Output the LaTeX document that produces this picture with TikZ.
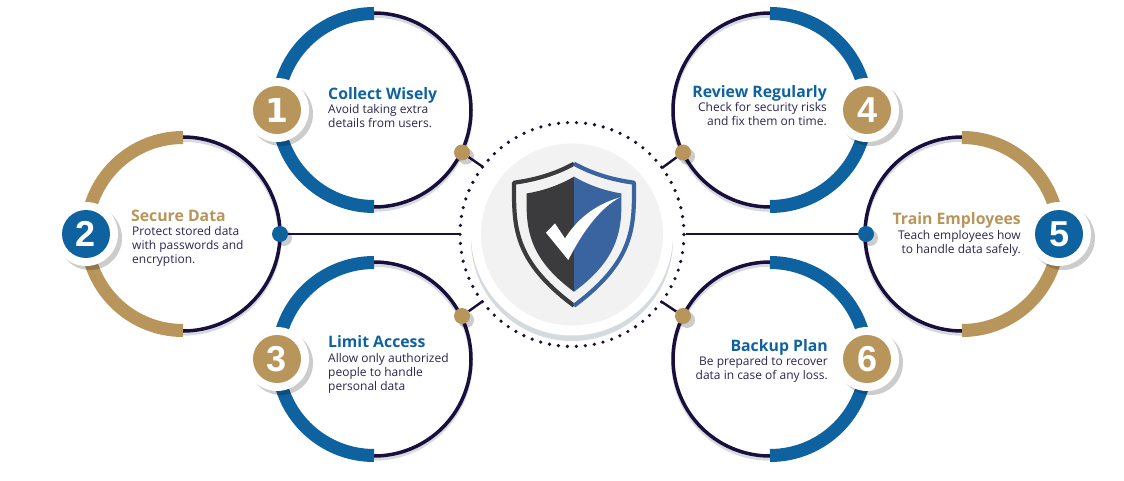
\documentclass[tikz,border=0pt]{standalone}
\usepackage{xcolor}
\usepackage{fontspec}
\setmainfont{Open Sans}
\newfontfamily\digitfont{Liberation Sans}
\newfontfamily\onefont{DejaVu Sans}
\usetikzlibrary{positioning,shadows}

\definecolor{bluemain}{HTML}{0F62A0}
\definecolor{goldmain}{HTML}{B8955A}
\definecolor{navyline}{HTML}{1A0F3C}
\definecolor{bodyink}{HTML}{2B2550}
\definecolor{ringshade}{HTML}{D5DADE}
\definecolor{hubgrey}{HTML}{F2F2F3}
\definecolor{shielddark}{HTML}{3B3A3C}
\definecolor{shieldblue}{HTML}{3A64A0}

\tikzset{
  thinring/.style={navyline, line width=3.5pt},
  ringshadow/.style={ringshade, line width=3.5pt},
  thickarc/.style={line width=13pt},
  linkline/.style={navyline, line width=2.4pt},
  dotring/.style={navyline, line width=3.6pt, line cap=round, dash pattern=on 0pt off 9.02pt},
  whitedisc/.style={circle, fill=white, inner sep=0pt, minimum size=64pt,
    drop shadow={shadow xshift=4pt, shadow yshift=-4pt, fill=black, opacity=.2}},
  badge/.style={circle, inner sep=0pt, minimum size=48pt, text=white,
    font=\digitfont\bfseries\fontsize{36}{36}\selectfont},
  jointdot/.style={circle, inner sep=0pt, minimum size=16pt,
    drop shadow={shadow xshift=4pt, shadow yshift=-4pt, fill=black, opacity=.2}},
  headtext/.style={inner sep=0pt, font=\bfseries\fontsize{15.8}{15.8}\selectfont},
  bodytext/.style={inner sep=0pt, text=bodyink, font=\fontsize{12}{14}\selectfont},
}

\begin{document}
\begin{tikzpicture}[x=1pt, y=1pt]
  \useasboundingbox (0,0) rectangle (1124,480);

  \coordinate (r1) at (374,370);
  \coordinate (r2) at (183,246);
  \coordinate (r3) at (374,121);
  \coordinate (r4) at (770,370);
  \coordinate (r5) at (962,246);
  \coordinate (r6) at (770,121);

  % ring shadows
  \draw[ringshadow] (374,270) arc[start angle=-90, end angle=90, radius=97];
  \draw[ringshadow] (183,146) arc[start angle=-90, end angle=90, radius=97];
  \draw[ringshadow] (374,21) arc[start angle=-90, end angle=90, radius=97];
  \draw[ringshadow] (770,270) arc[start angle=270, end angle=90, radius=97];
  \draw[ringshadow] (962,146) arc[start angle=270, end angle=90, radius=97];
  \draw[ringshadow] (770,21) arc[start angle=270, end angle=90, radius=97];

  % thin rings
  \draw[thinring] (r1) circle[radius=97];
  \draw[thinring] (r2) circle[radius=97];
  \draw[thinring] (r3) circle[radius=97];
  \draw[thinring] (r4) circle[radius=97];
  \draw[thinring] (r5) circle[radius=97];
  \draw[thinring] (r6) circle[radius=97];

  % thick halves
  \draw[thickarc, bluemain] (374,466.5) arc[start angle=90, end angle=270, radius=96.5];
  \draw[thickarc, goldmain] (183,342.5) arc[start angle=90, end angle=270, radius=96.5];
  \draw[thickarc, bluemain] (374,217.5) arc[start angle=90, end angle=270, radius=96.5];
  \draw[thickarc, bluemain] (770,466.5) arc[start angle=90, end angle=-90, radius=96.5];
  \draw[thickarc, goldmain] (962,342.5) arc[start angle=90, end angle=-90, radius=96.5];
  \draw[thickarc, bluemain] (770,217.5) arc[start angle=90, end angle=-90, radius=96.5];

  % number badges
  \node[whitedisc] (w1) at (277,370) {};
  \node[whitedisc] (w2) at (86,246) {};
  \node[whitedisc] (w3) at (277,121) {};
  \node[whitedisc] (w4) at (867,370) {};
  \node[whitedisc] (w5) at (1059,246) {};
  \node[whitedisc] (w6) at (867,121) {};
  \node[badge, fill=goldmain] (b1) at (w1) {\onefont\fontsize{33}{33}\selectfont 1};
  \node[badge, fill=bluemain] (b2) at (w2) {2};
  \node[badge, fill=goldmain] (b3) at (w3) {3};
  \node[badge, fill=goldmain] (b4) at (w4) {4};
  \node[badge, fill=bluemain] (b5) at (w5) {5};
  \node[badge, fill=goldmain] (b6) at (w6) {6};

  % hub
  \coordinate (hubc) at (572,245.5);
  \draw[dotring] (hubc) circle[radius=112];
  \node[circle, fill=white, inner sep=0pt, minimum size=202pt,
    drop shadow={shadow xshift=0pt, shadow yshift=-5.5pt, fill=ringshade, opacity=1}] (hub) at (hubc) {};
  \node[circle, fill=hubgrey, inner sep=0pt, minimum size=182pt] (hubin) at (hubc) {};

  % joints and links
  \node[jointdot, fill=goldmain] (d1) at (462,327.5) {};
  \node[jointdot, fill=bluemain] (d2) at (280,246) {};
  \node[jointdot, fill=goldmain] (d3) at (462,164) {};
  \node[jointdot, fill=goldmain] (d4) at (683,327.5) {};
  \node[jointdot, fill=bluemain] (d5) at (866,246) {};
  \node[jointdot, fill=goldmain] (d6) at (683,164) {};
  \coordinate (e1) at (483,313);
  \coordinate (e2) at (460,246);
  \coordinate (e3) at (483,179);
  \coordinate (e4) at (662,312);
  \coordinate (e5) at (686,246);
  \coordinate (e6) at (662,178);
  \draw[linkline] (d1) -- (e1);
  \draw[linkline] (d2) -- (e2);
  \draw[linkline] (d3) -- (e3);
  \draw[linkline] (d4) -- (e4);
  \draw[linkline] (d5) -- (e5);
  \draw[linkline] (d6) -- (e6);

  % shield
  \begin{scope}[shift={(574,245.3)}]
    \fill[shielddark] (0,58) .. controls (-14,50) and (-30,44) .. (-47.3,41.3)
      .. controls (-48,10) and (-48,-22) .. (0,-57) -- cycle;
    \fill[shieldblue] (0,58) .. controls (14,50) and (30,44) .. (47.3,41.3)
      .. controls (48,10) and (48,-22) .. (0,-57) -- cycle;
    \draw[shielddark, line width=4.2pt, line join=round] (0,71)
      .. controls (-18,61) and (-38,55) .. (-60,52)
      .. controls (-60,10) and (-62,-25) .. (0,-71);
    \draw[shieldblue, line width=4.2pt, line join=round] (0,71)
      .. controls (18,61) and (38,55) .. (60,52)
      .. controls (60,10) and (62,-25) .. (0,-71);
    \fill[white] (-28,2) -- (-19,11.3) -- (-9,-3.7)
      .. controls (2,14) and (20,30) .. (46,37.3)
      .. controls (28,28) and (10,6) .. (-5.7,-25.3) -- cycle;
  \end{scope}

  % texts
  \node[headtext, text=bluemain, anchor=west] (t1) at (328,385) {Collect Wisely};
  \node[bodytext, align=left, anchor=north west] (p1) at (328,376) {Avoid taking extra\\details from users.};
  \node[headtext, text=goldmain, anchor=west] (t2) at (131,264) {Secure Data};
  \node[bodytext, align=left, anchor=north west] (p2) at (132,254) {Protect stored data\\with passwords and\\encryption.};
  \node[headtext, text=bluemain, anchor=west] (t3) at (328,138) {Limit Access};
  \node[bodytext, align=left, anchor=north west] (p3) at (328,127) {Allow only authorized\\people to handle\\personal data};
  \node[headtext, text=bluemain, anchor=east] (t4) at (827,387) {Review Regularly};
  \node[bodytext, align=right, anchor=north east] (p4) at (827,378) {Check for security risks\\and fix them on time.};
  \node[headtext, text=goldmain, anchor=east] (t5) at (1021,260) {Train Employees};
  \node[bodytext, align=right, anchor=north east] (p5) at (1021,250) {Teach employees how\\to handle data safely.};
  \node[headtext, text=bluemain, anchor=east] (t6) at (828,133) {Backup Plan};
  \node[bodytext, align=right, anchor=north east] (p6) at (828,124) {Be prepared to recover\\data in case of any loss.};
\end{tikzpicture}
\end{document}
